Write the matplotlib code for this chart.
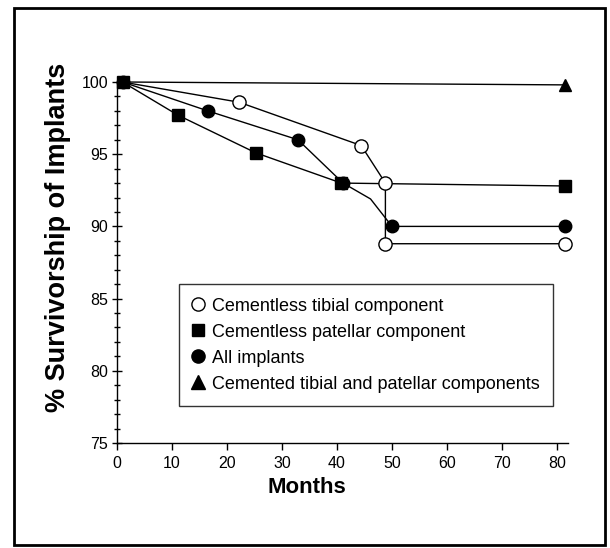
import matplotlib.pyplot as plt
from matplotlib.patches import Rectangle
from matplotlib.lines import Line2D

plt.rcParams['font.family'] = ['Liberation Sans', 'DejaVu Sans']

# survivorship curves
tibial_x = [1, 22.2, 44.4, 48.8, 48.8, 81.5]
tibial_y = [100, 98.6, 95.6, 93.0, 88.8, 88.8]

patellar_x = [1, 11.1, 25.2, 40.8, 81.5]
patellar_y = [100, 97.7, 95.1, 93.0, 92.8]

all_x = [1, 16.5, 32.9, 41.1, 46.1, 50.0, 81.5]
all_y = [100, 98.0, 96.0, 93.0, 91.9, 90.0, 90.0]
all_mark = [0, 1, 2, 3, 5, 6]

cemented_x = [1, 81.5]
cemented_y = [100, 99.8]

labels = ['Cementless tibial component',
          'Cementless patellar component',
          'All implants',
          'Cemented tibial and patellar components']

W, H = 610, 548
fig = plt.figure(figsize=(W / 100, H / 100), dpi=100)
ax = fig.add_axes([117 / W, 105 / H, (568 - 117) / W, (443 - 82) / H])

lw = 1.0
ax.plot(cemented_x, cemented_y, '-', color='black', lw=lw, clip_on=False)
ax.plot(cemented_x[-1:], cemented_y[-1:], '^', color='black', ms=9, clip_on=False)

ax.plot(all_x, all_y, '-', color='black', lw=lw, clip_on=False)
ax.plot([all_x[i] for i in all_mark], [all_y[i] for i in all_mark], 'o',
        color='black', ms=9, clip_on=False)

ax.plot(patellar_x, patellar_y, '-', color='black', lw=lw, clip_on=False)
ax.plot(patellar_x, patellar_y, 's', color='black', ms=8, clip_on=False)

ax.plot(tibial_x, tibial_y, '-', color='black', lw=lw, clip_on=False)
ax.plot(tibial_x[1:], tibial_y[1:], 'o', mfc='white', mec='black', mew=1.0,
        ms=9.5, clip_on=False)

ax.set_xlim(0, 82)
ax.set_ylim(75, 100)
ax.set_xticks(range(0, 81, 10))
ax.set_yticks(range(75, 101, 5))
ax.set_yticks(range(75, 101), minor=True)
ax.tick_params(axis='x', direction='out', length=5, width=1, labelsize=11.5, pad=4)
ax.tick_params(axis='y', which='major', direction='inout', length=7, width=1,
               labelsize=11.5, pad=3)
ax.tick_params(axis='y', which='minor', direction='inout', length=4, width=1)
for s in ['top', 'right']:
    ax.spines[s].set_visible(False)
for s in ['left', 'bottom']:
    ax.spines[s].set_linewidth(1.0)

ax.set_xlabel('Months', fontsize=16, fontweight='bold')
ax.xaxis.set_label_coords((307 - 117) / 451, -(477 - 443) / 361)
ax.set_ylabel('% Survivorship of Implants', fontsize=19.5, fontweight='bold')
ax.yaxis.set_label_coords(-(117 - 71) / 451, (443 - 237) / 361)

handles = [
    Line2D([], [], ls='', marker='o', mfc='white', mec='black', ms=9.5),
    Line2D([], [], ls='', marker='s', color='black', ms=8),
    Line2D([], [], ls='', marker='o', color='black', ms=9.5),
    Line2D([], [], ls='', marker='^', color='black', ms=9.5),
]
leg = ax.legend(handles, labels, loc='upper left',
                bbox_to_anchor=(179 / W, 1 - 284 / H),
                bbox_transform=fig.transFigure, fontsize=13,
                handlelength=0.6, handletextpad=0.45, labelspacing=0.5,
                borderpad=0.75, borderaxespad=0, frameon=True, fancybox=False)
leg.get_frame().set_edgecolor('black')
leg.get_frame().set_linewidth(1.0)

fig.patches.append(Rectangle((14 / W, 3 / H), (605 - 14) / W, (540 - 3) / H,
                             transform=fig.transFigure, fill=False,
                             edgecolor='black', lw=2))

fig.savefig('out.png', dpi=100)
